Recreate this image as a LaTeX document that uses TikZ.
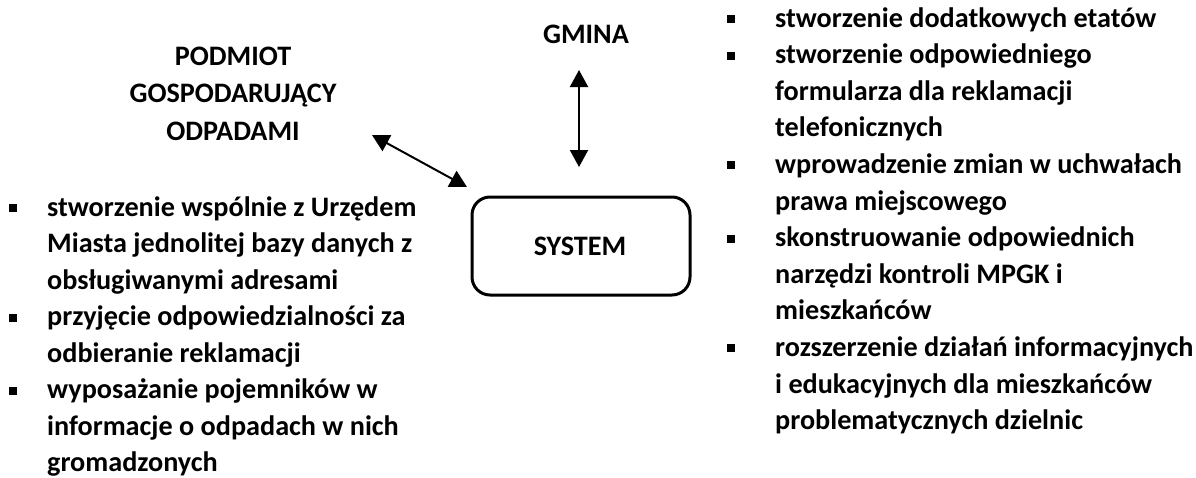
\documentclass[tikz,border=0pt]{standalone}
\usepackage{fontspec}
\setmainfont{Carlito}
\usetikzlibrary{arrows.meta}
\begin{document}
\begin{tikzpicture}[x=1pt,y=-1pt,
  txt/.style={anchor=base west, inner sep=0pt, font=\bfseries\fontsize{28.2}{34}\selectfont},
  ctxt/.style={anchor=base, inner sep=0pt, font=\bfseries\fontsize{28.2}{34}\selectfont},
  bul/.style={fill=black, draw=none, minimum size=8pt, inner sep=0pt},
  arr/.style={{Triangle[width=18pt,length=17pt]}-{Triangle[width=18pt,length=17pt]}, line width=2pt},
  sysbox/.style={draw, line width=3pt, rounded corners=18pt, minimum width=218pt, minimum height=98pt}
]
\useasboundingbox (0,0) rectangle (1196,477);
% top labels
\node[ctxt] (p1) at (233,65) {PODMIOT};
\node[ctxt] (p2) at (233,102.5) {GOSPODARUJĄCY};
\node[ctxt] (p3) at (233,140) {ODPADAMI};
\node[ctxt] (gmina) at (586,43) {GMINA};
% system box
\node[sysbox] (sys) at (581,246) {};
\node[ctxt] (systxt) at (580,255) {SYSTEM};
% arrows
\coordinate (pa) at (372,135);
\coordinate (sa) at (467,187);
\draw[arr] (pa) -- (sa);
\coordinate (ga) at (579,70);
\coordinate (gb) at (579,167);
\draw[arr] (ga) -- (gb);
% left list
\node[txt] (l1) at (47,216) {stworzenie wspólnie z Urzędem};
\node[txt] (l2) at (47,252.5) {Miasta jednolitej bazy danych z};
\node[txt] (l3) at (47,289) {obsługiwanymi adresami};
\node[txt] (l4) at (47,325.5) {przyjęcie odpowiedzialności za};
\node[txt] (l5) at (47,362) {odbieranie reklamacji};
\node[txt] (l6) at (47,398.5) {wyposażanie pojemników w};
\node[txt] (l7) at (47,435) {informacje o odpadach w nich};
\node[txt] (l8) at (47,471.5) {gromadzonych};
\node[bul] (lb1) at (13,208) {};
\node[bul] (lb2) at (13,317.5) {};
\node[bul] (lb3) at (13,390.5) {};
% right list
\node[txt] (r1) at (775,27) {stworzenie dodatkowych etatów};
\node[txt] (r2) at (775,63.6) {stworzenie odpowiedniego};
\node[txt] (r3) at (775,100.2) {formularza dla reklamacji};
\node[txt] (r4) at (775,136.8) {telefonicznych};
\node[txt] (r5) at (775,173.4) {wprowadzenie zmian w uchwałach};
\node[txt] (r6) at (775,210) {prawa miejscowego};
\node[txt] (r7) at (775,246.6) {skonstruowanie odpowiednich};
\node[txt] (r8) at (775,283.2) {narzędzi kontroli MPGK i};
\node[txt] (r9) at (775,319.8) {mieszkańców};
\node[txt] (r10) at (775,356.4) {rozszerzenie działań informacyjnych};
\node[txt] (r11) at (775,393) {i edukacyjnych dla mieszkańców};
\node[txt] (r12) at (775,429.6) {problematycznych dzielnic};
\node[bul] (rb1) at (731,19) {};
\node[bul] (rb2) at (731,55.6) {};
\node[bul] (rb3) at (731,165.4) {};
\node[bul] (rb4) at (731,238.6) {};
\node[bul] (rb5) at (731,348.4) {};
\end{tikzpicture}
\end{document}
